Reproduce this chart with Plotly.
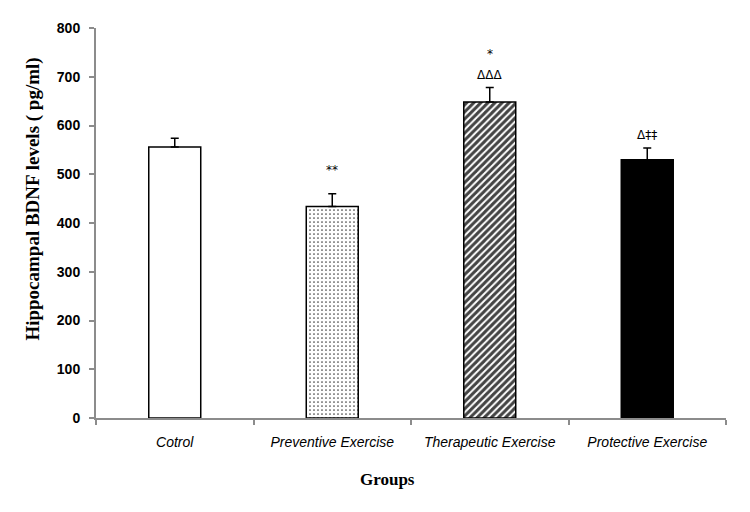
import plotly.graph_objects as go

groups = ["Cotrol", "Preventive Exercise", "Therapeutic Exercise", "Protective Exercise"]
bdnf_mean = [556, 434, 648, 530]
bdnf_sem = [18, 26, 30, 24]
sig_marks = [["", 0], ["**", 24], ["ΔΔΔ", 12], ["Δ‡‡", 13]]
y_ticks = [0, 100, 200, 300, 400, 500, 600, 700, 800]

fills = ["white", "white", "white", "black"]
patterns = ["", ".", "/", ""]

serif = "Liberation Serif, Times New Roman, serif"

fig = go.Figure()
fig.add_trace(go.Bar(
    x=groups,
    y=bdnf_mean,
    width=0.33,
    marker=dict(
        color=fills,
        line=dict(color="black", width=1.5),
        pattern=dict(shape=patterns, fgcolor="black", bgcolor="white", fgopacity=1,
                     size=[8, 4, 5, 8], solidity=[0.3, 0.15, 0.6, 0.3]),
    ),
    error_y=dict(type="data", symmetric=False, array=bdnf_sem,
                 arrayminus=[0] * len(bdnf_sem), color="black", thickness=1.5, width=4),
    showlegend=False,
))

# significance labels above the error bars
for g, m, e, (txt, shift) in zip(groups, bdnf_mean, bdnf_sem, sig_marks):
    if txt:
        fig.add_annotation(x=g, y=m + e, text=txt, showarrow=False, yanchor="middle",
                           yshift=shift, font=dict(family="DejaVu Sans", size=12, color="black"))
fig.add_annotation(x=groups[2], y=bdnf_mean[2] + bdnf_sem[2], text="*", showarrow=False,
                   yanchor="middle", yshift=33, font=dict(family="DejaVu Sans", size=12, color="black"))

# axis titles (placed by hand, the y title sits above centre in the original)
fig.add_annotation(xref="paper", yref="paper", x=-0.1, y=0.56, text="<b>Hippocampal BDNF levels ( pg/ml)</b>",
                   textangle=-90, showarrow=False, xanchor="center", yanchor="middle",
                   font=dict(family=serif, size=19, color="black"))
fig.add_annotation(xref="paper", yref="paper", x=0.463, y=0, yshift=-61, text="<b>Groups</b>",
                   showarrow=False, xanchor="center", yanchor="middle",
                   font=dict(family=serif, size=17, color="black"))

# page body has an 8px margin, so the figure is a bit smaller than the window
fig.update_layout(
    width=742, height=504,
    margin=dict(l=88, r=24, t=17, b=94),
    plot_bgcolor="white", paper_bgcolor="white",
)
fig.update_xaxes(
    showline=True, linecolor="#8c8c8c", linewidth=2,
    ticks="outside", tickson="boundaries", ticklen=5, tickcolor="#8c8c8c", tickwidth=2,
    ticklabelstandoff=10,
    tickfont=dict(family="Liberation Sans Narrow, Arial Narrow, Liberation Sans", size=14, color="black",
                  style="italic"),
)
fig.update_yaxes(
    range=[0, 800], tickvals=y_ticks,
    showline=True, linecolor="#8c8c8c", linewidth=2, showgrid=False, zeroline=False,
    ticks="outside", ticklen=5, tickcolor="#8c8c8c", tickwidth=2, ticklabelstandoff=6,
    tickfont=dict(family="Liberation Sans", size=14, color="black", weight="bold"),
)

fig.write_html("out.html")
